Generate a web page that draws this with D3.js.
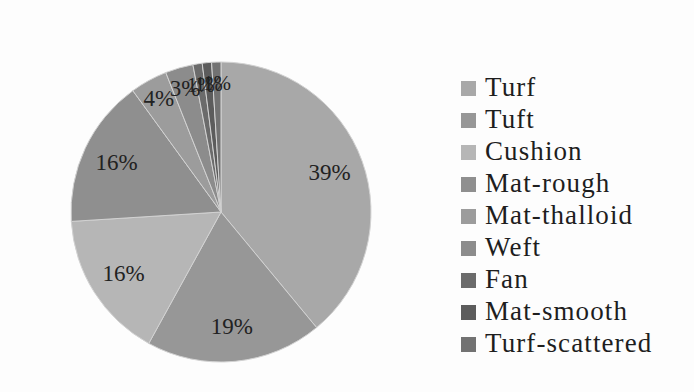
<!DOCTYPE html>
<html>
<head>
<meta charset="utf-8">
<script src="https://cdn.jsdelivr.net/npm/d3@7"></script>
<style>
  html, body { margin: 0; padding: 0; background: #ffffff; }
  svg { display: block; }
</style>
</head>
<body>
<svg id="chart" width="694" height="392"></svg>
<script>
// Growth-form shares (%)
const categories = ["Turf", "Tuft", "Cushion", "Mat-rough", "Mat-thalloid", "Weft", "Fan", "Mat-smooth", "Turf-scattered"];
const shares = [39, 19, 16, 16, 4, 3, 1, 1, 1];
const fills = ["#a8a8a8", "#979797", "#b6b6b6", "#8f8f8f", "#9c9c9c", "#8c8c8c", "#6b6b6b", "#5c5c5c", "#727272"];

const svg = d3.select("#chart");
const W = 694, H = 392;

svg.append("rect").attr("width", W).attr("height", H).attr("fill", "#fdfdfd");

const cx = 221, cy = 212, R = 150;

const data = categories.map((c, i) => ({ name: c, value: shares[i], fill: fills[i] }));

const pie = d3.pie().value(d => d.value).sort(null);
const arcs = pie(data);

const arc = d3.arc().innerRadius(0).outerRadius(R);
const bigLabelArc = d3.arc().innerRadius(R * 0.77).outerRadius(R * 0.77);
const smallLabelArc = d3.arc().innerRadius(R * 0.86).outerRadius(R * 0.86);

const g = svg.append("g").attr("transform", `translate(${cx},${cy})`);

g.selectAll("path.slice")
  .data(arcs)
  .join("path")
  .attr("class", "slice")
  .attr("d", arc)
  .attr("fill", d => d.data.fill)
  .attr("stroke", "#d2d2d2")
  .attr("stroke-width", 1);

// Percentage labels; the three 1% slices are thin, so their labels crowd together at the top
g.selectAll("text.pct")
  .data(arcs)
  .join("text")
  .attr("class", "pct")
  .attr("transform", d => {
    const a = d.data.value < 5 ? smallLabelArc : bigLabelArc;
    const [x, y] = a.centroid(d);
    return `translate(${x},${y})`;
  })
  .attr("text-anchor", "middle")
  .attr("dominant-baseline", "central")
  .attr("font-family", "'Liberation Serif', 'Times New Roman', serif")
  .attr("font-size", d => d.data.value < 2 ? 21 : 23)
  .attr("fill", "#222")
  .text(d => d.data.value + "%");

// Legend
const legendX = 461, legendTop = 96, rowGap = 32;
const legend = svg.append("g");

const rows = legend.selectAll("g.row")
  .data(data)
  .join("g")
  .attr("class", "row")
  .attr("transform", (d, i) => `translate(${legendX},${legendTop + i * rowGap})`);

rows.append("rect")
  .attr("x", 0)
  .attr("y", -15)
  .attr("width", 15)
  .attr("height", 15)
  .attr("fill", d => d.fill);

rows.append("text")
  .attr("x", 24)
  .attr("y", 0)
  .attr("font-family", "'Liberation Serif', 'Times New Roman', serif")
  .attr("font-size", 27)
  .attr("letter-spacing", 1.1)
  .attr("fill", "#1e1e1e")
  .text(d => d.name);
</script>
</body>
</html>
